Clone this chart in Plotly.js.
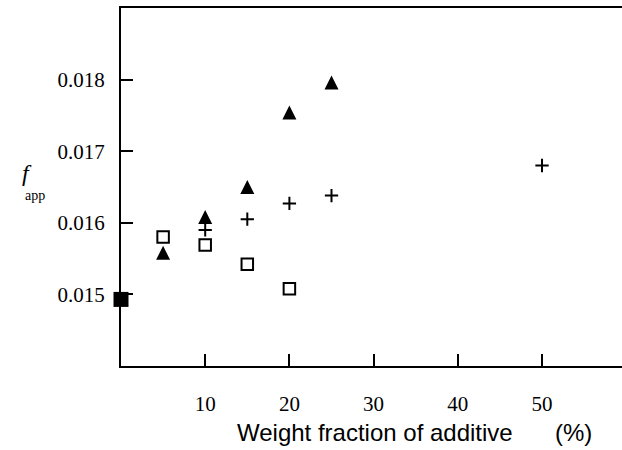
<!DOCTYPE html>
<html>
<head>
<meta charset="utf-8">
<script src="https://cdn.plot.ly/plotly-3.0.1.min.js"></script>
<style>
  html, body { margin: 0; padding: 0; background: #ffffff; }
  #chart { width: 622px; height: 450px; }
</style>
</head>
<body>
<div id="chart"></div>
<script>
// ---- data ----
const baseX = [0];
const baseY = [0.01493];

const squareX = [5, 10, 15, 20];
const squareY = [0.0158, 0.01569, 0.01542, 0.01508];

const triangleX = [5, 10, 15, 20, 25];
const triangleY = [0.01558, 0.01608, 0.0165, 0.01754, 0.01796];

const plusX = [10, 15, 20, 25, 50];
const plusY = [0.0159, 0.01605, 0.01627, 0.01638, 0.0168];

const xTickVals = [10, 20, 30, 40, 50];
const xTickText = ["10", "20", "30", "40", "50"];
const yTickVals = [0.015, 0.016, 0.017, 0.018];
const yTickText = ["0.015", "0.016", "0.017", "0.018"];

const xTitle = "Weight fraction of additive";
const xUnit = "(%)";
const yTitleMain = "f";
const yTitleSub = "app";

// ---- traces ----
const traces = [
  {
    x: squareX, y: squareY, type: "scatter", mode: "markers", cliponaxis: false,
    marker: { symbol: "square-open", size: 11.5, color: "#000", line: { color: "#000", width: 2 } },
    hoverinfo: "skip"
  },
  {
    x: triangleX, y: triangleY, type: "scatter", mode: "markers", cliponaxis: false,
    marker: { symbol: "arrow-down", angle: 180, standoff: 7, size: 14, color: "#000",
              line: { color: "#000", width: 0 } },
    hoverinfo: "skip"
  },
  {
    x: plusX, y: plusY, type: "scatter", mode: "markers", cliponaxis: false,
    marker: { symbol: "cross-thin-open", size: 9.5, color: "#000", line: { color: "#000", width: 2 } },
    hoverinfo: "skip"
  },
  {
    x: baseX, y: baseY, type: "scatter", mode: "markers", cliponaxis: false,
    marker: { symbol: "square", size: 15, color: "#000", line: { width: 0 } },
    hoverinfo: "skip"
  }
];

const serif = "Liberation Serif, Times New Roman, serif";
const sans = "Liberation Sans, Arial, sans-serif";

const layout = {
  width: 622, height: 450,
  margin: { l: 121, r: 0, t: 8, b: 84, pad: 0 },
  paper_bgcolor: "#fff", plot_bgcolor: "#fff",
  showlegend: false,
  xaxis: {
    range: [0, 59.5], showgrid: false, zeroline: false,
    showline: true, linecolor: "#000", linewidth: 2, mirror: true,
    ticks: "inside", ticklen: 12, tickwidth: 2, tickcolor: "#000",
    tickvals: xTickVals, ticktext: xTickText,
    tickfont: { family: serif, size: 21, color: "#000" },
    ticklabelstandoff: 18
  },
  yaxis: {
    range: [0.014, 0.019], showgrid: false, zeroline: false,
    showline: true, linecolor: "#000", linewidth: 2, mirror: false,
    ticks: "inside", ticklen: 12, tickwidth: 2, tickcolor: "#000",
    tickvals: yTickVals, ticktext: yTickText,
    tickfont: { family: serif, size: 21, color: "#000" },
    ticklabelstandoff: 10
  },
  annotations: [
    { text: xTitle, xref: "paper", yref: "paper", x: (236 - 121) / 501, y: (366 - 432) / 358,
      xanchor: "left", yanchor: "middle", showarrow: false, borderpad: 0,
      font: { family: sans, size: 24, color: "#000" } },
    { text: xUnit, xref: "paper", yref: "paper", x: (554 - 121) / 501, y: (366 - 432) / 358,
      xanchor: "left", yanchor: "middle", showarrow: false, borderpad: 0,
      font: { family: sans, size: 24, color: "#000" } },
    { text: "<i>" + yTitleMain + "</i>", xref: "paper", yref: "paper", x: (27 - 121) / 501, y: (366 - 173) / 358,
      xanchor: "center", yanchor: "middle", showarrow: false, borderpad: 0,
      font: { family: serif, size: 24, color: "#000" } },
    { text: yTitleSub, xref: "paper", yref: "paper", x: (35 - 121) / 501, y: (366 - 195) / 358,
      xanchor: "center", yanchor: "middle", showarrow: false, borderpad: 0,
      font: { family: serif, size: 14, color: "#000" } }
  ]
};

Plotly.newPlot("chart", traces, layout, { displayModeBar: false, staticPlot: true });
</script>
</body>
</html>
